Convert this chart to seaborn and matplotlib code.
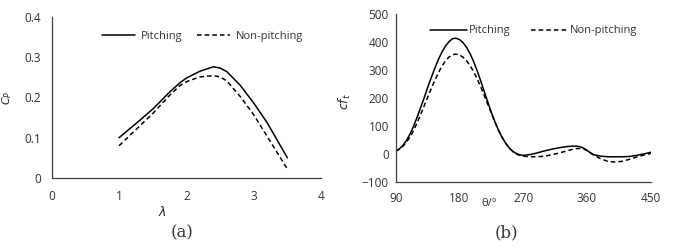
import numpy as np
import pandas as pd
import matplotlib.pyplot as plt
import seaborn as sns

# === DATA ===
lam = [1.0, 1.25, 1.5, 1.75, 1.9, 2.0, 2.2, 2.4, 2.5, 2.6, 2.8, 3.0, 3.2, 3.5]
cp_pitch = [0.100, 0.135, 0.171, 0.213, 0.236, 0.248, 0.265, 0.276, 0.273, 0.264, 0.230, 0.186, 0.137, 0.050]
cp_nonpitch = [0.080, 0.120, 0.160, 0.205, 0.229, 0.239, 0.251, 0.254, 0.251, 0.241, 0.202, 0.157, 0.103, 0.022]

theta = [90, 95, 100, 105, 110, 115, 120, 125, 130, 135, 140, 145, 150, 155, 160, 165,
         170, 175, 180, 185, 190, 195, 200, 205, 210, 215, 220, 225, 230, 235, 240, 245,
         250, 255, 260, 265, 270, 280, 290, 300, 310, 320, 330, 340, 345, 350, 355, 360,
         365, 370, 380, 390, 400, 410, 420, 430, 440, 450]
cf_pitch = [10, 18, 30, 48, 70, 98, 130, 165, 200, 237, 272, 305, 337, 363, 385, 401,
            412, 414, 409, 398, 381, 358, 330, 297, 261, 223, 185, 149, 115, 85, 60, 39,
            22, 10, 2, -3, -5, -2, 4, 11, 17, 22, 26, 28, 28, 26, 21, 13,
            4, -3, -8, -10, -10, -10, -9, -5, 0, 6]
cf_nonpitch = [10, 17, 27, 42, 60, 83, 110, 140, 171, 202, 233, 262, 289, 313, 332, 346,
               355, 357, 354, 346, 333, 316, 294, 268, 240, 209, 177, 145, 114, 85, 60, 39,
               22, 9, 0, -5, -8, -10, -10, -8, -3, 3, 10, 17, 19, 20, 18, 12,
               3, -5, -18, -27, -29, -26, -19, -11, -4, 2]

df_a = pd.DataFrame({'x': lam * 2, 'y': cp_pitch + cp_nonpitch,
                     'case': ['Pitching'] * len(lam) + ['Non-pitching'] * len(lam)})
df_b = pd.DataFrame({'x': theta * 2, 'y': cf_pitch + cf_nonpitch,
                     'case': ['Pitching'] * len(theta) + ['Non-pitching'] * len(theta)})

sns.set_style("white")
plt.rcParams['font.family'] = ['Open Sans', 'DejaVu Sans']

fig = plt.figure(figsize=(6.73, 2.52), dpi=100)
ax1 = fig.add_axes([0.077, 0.294, 0.400, 0.639])
ax2 = fig.add_axes([0.588, 0.278, 0.379, 0.666])

styles = {'Pitching': '', 'Non-pitching': (3, 2)}
axis_col = '#404040'
text_col = '#333333'
tick_fs = 8.5

for ax, df in [(ax1, df_a), (ax2, df_b)]:
    sns.lineplot(data=df, x='x', y='y', hue='case', style='case', dashes=styles,
                 palette={'Pitching': 'black', 'Non-pitching': 'black'},
                 linewidth=1.1, ax=ax)
    for s in ['top', 'right']:
        ax.spines[s].set_visible(False)
    for s in ['left', 'bottom']:
        ax.spines[s].set_color(axis_col)
        ax.spines[s].set_linewidth(0.9)
    ax.tick_params(axis='both', labelsize=tick_fs, labelcolor=text_col, length=0)
    ax.tick_params(axis='x', direction='in', length=3, color=axis_col)

# panel (a): power coefficient vs tip speed ratio
ax1.set_xlim(0, 4)
ax1.set_ylim(0, 0.4)
ax1.set_xticks([0, 1, 2, 3, 4])
ax1.set_yticks([0, 0.1, 0.2, 0.3, 0.4])
ax1.set_yticklabels(['0', '0.1', '0.2', '0.3', '0.4'])
ax1.tick_params(axis='x', pad=9)
ax1.tick_params(axis='y', pad=8)
ax1.set_xlabel(r'$\lambda$', fontsize=9)
ax1.xaxis.set_label_coords(0.41, -0.168)
ax1.set_ylabel(r'$C_P$', fontsize=8)
ax1.yaxis.set_label_coords(-0.141, 0.497)
ax1.legend(ncol=2, frameon=False, loc='center', bbox_to_anchor=(0.56, 0.88),
           fontsize=8, handlelength=3.0, columnspacing=1.3, handletextpad=0.5,
           labelcolor=text_col)

# panel (b): tangential force coefficient vs azimuth
ax2.set_xlim(90, 450)
ax2.set_ylim(-100, 500)
ax2.set_xticks([90, 180, 270, 360, 450])
ax2.set_yticks([-100, 0, 100, 200, 300, 400, 500])
ax2.tick_params(axis='x', pad=7)
ax2.tick_params(axis='y', pad=5)
ax2.set_xlabel('θ/°', fontsize=8, color=text_col)
ax2.xaxis.set_label_coords(0.365, -0.095)
ax2.set_ylabel(r'$cf_t$', fontsize=9)
ax2.yaxis.set_label_coords(-0.169, 0.482)
ax2.legend(ncol=2, frameon=False, loc='center', bbox_to_anchor=(0.54, 0.90),
           fontsize=8, handlelength=3.3, columnspacing=1.8, handletextpad=0.2,
           labelcolor=text_col)

fig.text(0.270, 0.075, '(a)', ha='center', va='center', fontsize=12, family='DejaVu Serif', color=text_col)
fig.text(0.753, 0.075, '(b)', ha='center', va='center', fontsize=12, family='DejaVu Serif', color=text_col)

fig.savefig('out.png', dpi=100)
plt.close(fig)
